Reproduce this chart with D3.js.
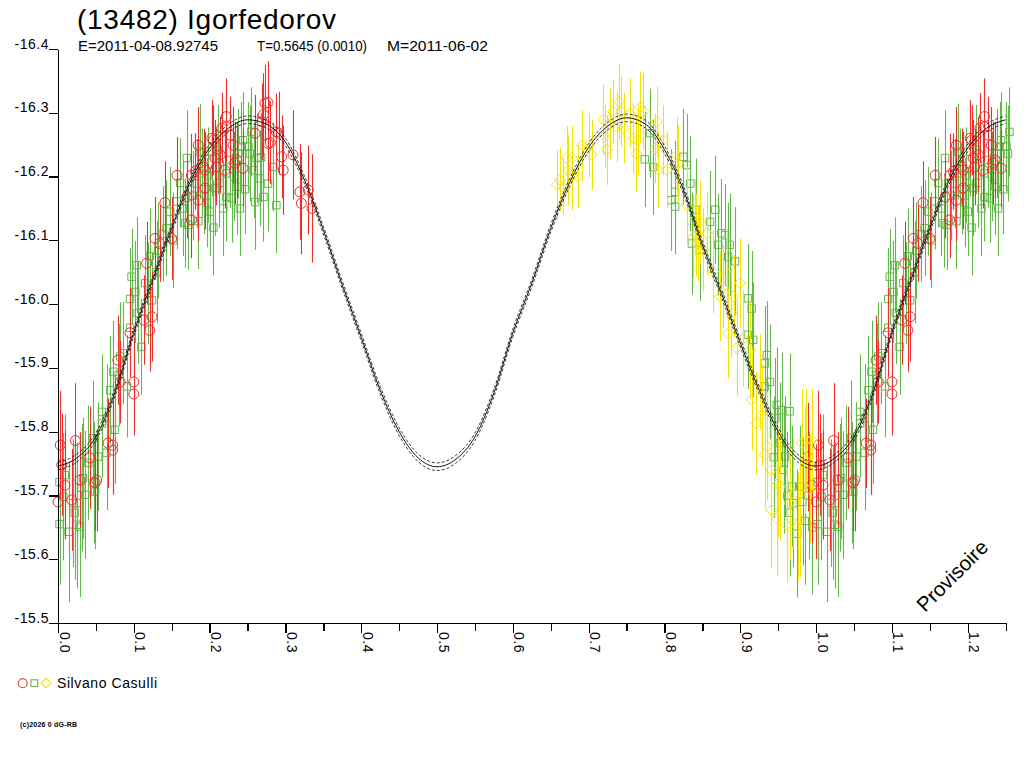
<!DOCTYPE html>
<html><head><meta charset="utf-8">
<script src="https://cdn.jsdelivr.net/npm/d3@7"></script>
<style>
body{margin:0;background:#fff}
svg{display:block}
text{font-family:"Liberation Sans",Arial,sans-serif;fill:#000}
</style>
</head><body>
<svg id="chart" width="1024" height="768"></svg>
<script>
// ---------- texts ----------
const titleText = "(13482) Igorfedorov";
const subtitleParts = ["E=2011-04-08.92745", "T=0.5645 (0.0010)", "M=2011-06-02"];
const observerName = "Silvano Casulli";
const copyrightText = "(c)2026 0 dG-RB";
const watermarkText = "Provisoire";

// ---------- axes ----------
const xMajorTicks = [0.0,0.1,0.2,0.3,0.4,0.5,0.6,0.7,0.8,0.9,1.0,1.1,1.2];
const xMinorTicks = [0.05,0.15,0.25,0.35,0.45,0.55,0.65,0.75,0.85,0.95,1.05,1.15,1.25];
const yTicks = [-16.4,-16.3,-16.2,-16.1,-16.0,-15.9,-15.8,-15.7,-15.6,-15.5];

// ---------- fitted curve (phase, magnitude) ----------
const curvePhase = [0.000,0.025,0.050,0.075,0.100,0.125,0.150,0.175,0.200,0.225,0.250,
  0.275,0.300,0.325,0.350,0.375,0.400,0.425,0.450,0.475,0.500,
  0.525,0.550,0.575,0.600,0.625,0.650,0.675,0.700,0.725,0.750,
  0.775,0.800,0.825,0.850,0.875,0.900,0.925,0.950,0.975,1.000];
const curveMag = [-15.746,-15.759,-15.792,-15.861,-15.956,-16.038,-16.119,-16.193,-16.245,-16.276,-16.289,
  -16.282,-16.254,-16.195,-16.116,-16.030,-15.948,-15.865,-15.800,-15.759,-15.745,
  -15.757,-15.792,-15.861,-15.955,-16.033,-16.119,-16.191,-16.246,-16.279,-16.292,
  -16.282,-16.242,-16.179,-16.093,-16.017,-15.939,-15.865,-15.800,-15.759,-15.746];
const curveEnvelope = 0.006;

// ---------- observations [phase, mag, error] ----------
const redPoints = [
[0.000,-15.690,0.090],[0.003,-15.779,0.085],[0.005,-15.748,0.080],[0.009,-15.716,0.085],
[0.018,-15.693,0.080],[0.023,-15.786,0.090],[0.029,-15.724,0.075],[0.042,-15.759,0.080],
[0.049,-15.720,0.075],[0.051,-15.724,0.080],[0.066,-15.782,0.070],[0.072,-15.779,0.075],
[0.072,-15.771,0.070],[0.079,-15.912,0.070],[0.082,-15.878,0.065],[0.095,-15.955,0.070],
[0.100,-15.878,0.070],[0.100,-15.859,0.065],[0.113,-15.975,0.070],[0.117,-16.064,0.065],
[0.121,-15.959,0.065],[0.124,-15.980,0.070],[0.128,-16.103,0.065],[0.134,-16.095,0.060],
[0.141,-16.159,0.065],[0.150,-16.103,0.065],[0.157,-16.202,0.060],[0.170,-16.168,0.065],
[0.176,-16.132,0.060],[0.176,-16.202,0.065],[0.181,-16.208,0.060],[0.185,-16.249,0.060],
[0.185,-16.163,0.065],[0.192,-16.215,0.060],[0.194,-16.182,0.065],[0.194,-16.210,0.060],
[0.203,-16.260,0.060],[0.205,-16.257,0.055],[0.207,-16.229,0.060],[0.209,-16.215,0.060],
[0.214,-16.234,0.060],[0.216,-16.276,0.055],[0.220,-16.210,0.060],[0.222,-16.294,0.060],
[0.222,-16.278,0.055],[0.227,-16.265,0.060],[0.231,-16.249,0.060],[0.233,-16.221,0.065],
[0.236,-16.226,0.060],[0.244,-16.213,0.060],[0.260,-16.268,0.060],[0.269,-16.286,0.060],
[0.271,-16.297,0.065],[0.273,-16.315,0.060],[0.277,-16.316,0.065],[0.277,-16.252,0.060],
[0.280,-16.253,0.065],[0.288,-16.270,0.060],[0.291,-16.268,0.065],[0.295,-16.231,0.065],
[0.297,-16.210,0.070],[0.310,-16.234,0.070],[0.319,-16.176,0.075],[0.321,-16.158,0.080],
[0.330,-16.179,0.070],[0.335,-16.150,0.085],[0.989,-15.760,0.085],[0.994,-15.716,0.090]
];
const greenPoints = [
[0.002,-15.655,0.095],[0.002,-15.721,0.090],[0.007,-15.698,0.100],[0.009,-15.732,0.095],
[0.014,-15.643,0.110],[0.020,-15.688,0.100],[0.022,-15.673,0.105],[0.025,-15.654,0.100],
[0.025,-15.688,0.095],[0.029,-15.651,0.110],[0.031,-15.712,0.100],[0.033,-15.727,0.095],
[0.036,-15.701,0.100],[0.040,-15.751,0.090],[0.046,-15.790,0.090],[0.047,-15.720,0.095],
[0.049,-15.706,0.090],[0.053,-15.761,0.085],[0.058,-15.831,0.090],[0.058,-15.813,0.085],
[0.064,-15.767,0.090],[0.064,-15.821,0.085],[0.069,-15.865,0.085],[0.073,-15.894,0.080],
[0.075,-15.803,0.085],[0.080,-15.889,0.080],[0.082,-15.918,0.085],[0.086,-15.923,0.080],
[0.091,-15.871,0.080],[0.095,-15.963,0.075],[0.095,-16.008,0.080],[0.097,-16.043,0.075],
[0.102,-16.019,0.080],[0.104,-16.061,0.075],[0.105,-15.986,0.080],[0.110,-15.933,0.075],
[0.115,-16.033,0.075],[0.119,-16.017,0.080],[0.121,-16.075,0.075],[0.124,-16.006,0.075],
[0.130,-16.050,0.080],[0.132,-16.084,0.075],[0.138,-16.110,0.075],[0.143,-16.119,0.075],
[0.148,-16.145,0.070],[0.152,-16.100,0.075],[0.157,-16.161,0.075],[0.161,-16.190,0.070],
[0.165,-16.150,0.075],[0.168,-16.127,0.070],[0.170,-16.229,0.075],[0.172,-16.124,0.070],
[0.178,-16.170,0.070],[0.183,-16.189,0.070],[0.185,-16.130,0.075],[0.187,-16.239,0.075],
[0.190,-16.205,0.070],[0.193,-16.180,0.070],[0.196,-16.159,0.070],[0.198,-16.202,0.075],
[0.200,-16.145,0.070],[0.203,-16.239,0.070],[0.205,-16.120,0.075],[0.207,-16.182,0.075],
[0.211,-16.242,0.070],[0.213,-16.190,0.070],[0.218,-16.150,0.075],[0.222,-16.205,0.075],
[0.222,-16.168,0.070],[0.227,-16.226,0.075],[0.229,-16.166,0.070],[0.232,-16.200,0.070],
[0.236,-16.184,0.075],[0.238,-16.236,0.070],[0.240,-16.150,0.075],[0.242,-16.247,0.070],
[0.244,-16.257,0.075],[0.247,-16.180,0.070],[0.251,-16.247,0.070],[0.253,-16.236,0.075],
[0.255,-16.270,0.070],[0.258,-16.210,0.075],[0.260,-16.160,0.075],[0.262,-16.229,0.070],
[0.266,-16.197,0.075],[0.268,-16.230,0.070],[0.271,-16.168,0.070],[0.277,-16.189,0.075],
[0.284,-16.215,0.070],[0.288,-16.155,0.075],
[0.774,-16.227,0.075],[0.781,-16.268,0.070],[0.785,-16.215,0.075],[0.809,-16.163,0.080],
[0.814,-16.153,0.075],[0.814,-16.176,0.080],[0.825,-16.231,0.075],[0.829,-16.218,0.080],
[0.834,-16.189,0.075],[0.836,-16.095,0.080],[0.842,-16.148,0.080],[0.842,-16.127,0.075],
[0.847,-16.085,0.080],[0.860,-16.129,0.080],[0.867,-16.148,0.085],[0.871,-16.093,0.080],
[0.875,-16.111,0.085],[0.880,-16.108,0.080],[0.884,-16.074,0.085],[0.886,-16.093,0.080],
[0.893,-16.067,0.085],[0.910,-16.009,0.085],[0.915,-15.993,0.090],[0.910,-15.952,0.085],
[0.917,-15.944,0.090],[0.932,-15.907,0.090],[0.935,-15.920,0.085],[0.939,-15.878,0.090],
[0.932,-15.871,0.090],[0.944,-15.760,0.095],[0.946,-15.821,0.095],[0.948,-15.842,0.090],
[0.952,-15.782,0.095],[0.955,-15.834,0.090],[0.957,-15.740,0.100],[0.959,-15.761,0.095],
[0.962,-15.700,0.100],[0.965,-15.832,0.090],[0.965,-15.673,0.100],[0.968,-15.714,0.095],
[0.970,-15.688,0.100],[0.975,-15.640,0.100],[0.979,-15.714,0.095],[0.982,-15.690,0.100],
[0.985,-15.660,0.100],[0.990,-15.700,0.100],[0.995,-15.650,0.105]
];
const yellowPoints = [
[0.658,-16.187,0.055],[0.662,-16.195,0.050],[0.666,-16.184,0.045],[0.671,-16.229,0.050],
[0.673,-16.210,0.055],[0.678,-16.229,0.050],[0.678,-16.202,0.055],[0.686,-16.200,0.050],
[0.691,-16.249,0.055],[0.700,-16.249,0.050],[0.704,-16.234,0.055],[0.719,-16.289,0.055],
[0.721,-16.263,0.050],[0.724,-16.242,0.055],[0.728,-16.283,0.055],[0.732,-16.302,0.050],
[0.737,-16.278,0.055],[0.740,-16.317,0.060],[0.743,-16.302,0.055],[0.746,-16.276,0.055],
[0.754,-16.299,0.055],[0.759,-16.260,0.055],[0.763,-16.236,0.060],[0.765,-16.257,0.055],
[0.768,-16.309,0.055],[0.772,-16.302,0.060],[0.787,-16.244,0.055],[0.790,-16.286,0.055],
[0.792,-16.210,0.060],[0.798,-16.257,0.055],[0.803,-16.210,0.060],[0.816,-16.234,0.060],
[0.818,-16.221,0.060],[0.829,-16.155,0.060],[0.838,-16.106,0.065],[0.840,-16.137,0.060],
[0.842,-16.108,0.065],[0.844,-16.095,0.060],[0.847,-16.129,0.065],[0.851,-16.085,0.065],
[0.856,-16.111,0.065],[0.864,-16.051,0.065],[0.873,-16.012,0.070],[0.877,-16.027,0.065],
[0.882,-16.048,0.070],[0.884,-15.954,0.070],[0.888,-15.986,0.070],[0.891,-16.012,0.065],
[0.895,-15.931,0.075],[0.900,-16.033,0.070],[0.904,-15.946,0.075],[0.913,-15.928,0.075],
[0.915,-15.850,0.080],[0.921,-15.813,0.080],[0.926,-15.878,0.075],[0.928,-15.826,0.080],
[0.932,-15.764,0.085],[0.935,-15.777,0.085],[0.941,-15.740,0.085],[0.941,-15.677,0.090],
[0.948,-15.664,0.090],[0.950,-15.719,0.085],[0.952,-15.714,0.085],[0.961,-15.654,0.090],
[0.965,-15.688,0.090],[0.970,-15.703,0.085],[0.976,-15.651,0.085],[0.979,-15.662,0.090],
[0.981,-15.782,0.085],[0.985,-15.756,0.085],[0.987,-15.787,0.080],[0.992,-15.709,0.085],
[0.994,-15.787,0.080]
];

// ---------- drawing ----------
const svg = d3.select("#chart");
const x = d3.scaleLinear().domain([0, 1.25]).range([58, 1005.7]);
const y = d3.scaleLinear().domain([-16.4, -15.5]).range([49, 623]);
const phaseMax = 1.25;

const COLORS = {red: "#ee2d2d", green: "#62b848", yellow: "#f6e400"};

// phases < 0.25 are repeated one cycle later
const wrap = pts => pts.concat(pts.filter(p => p[0] + 1 <= phaseMax + 0.005).map(p => [p[0] + 1, p[1], p[2]]));

function drawSeries(points, color, shape) {
  const g = svg.append("g");
  const data = wrap(points);
  g.selectAll("line").data(data).join("line")
    .attr("x1", d => Math.round(x(d[0])) + 0.5).attr("x2", d => Math.round(x(d[0])) + 0.5)
    .attr("y1", d => y(d[1] - d[2])).attr("y2", d => y(d[1] + d[2]))
    .attr("stroke", color).attr("stroke-width", 1.1);
  const sym = g.selectAll("path.m").data(data).join("path").attr("class", "m")
    .attr("fill", "none").attr("stroke", color).attr("stroke-width", 1)
    .attr("transform", d => `translate(${x(d[0])},${y(d[1])})`);
  if (shape === "circle") sym.attr("d", "M5,0A5,5 0 1,1 -5,0A5,5 0 1,1 5,0Z");
  if (shape === "square") sym.attr("d", "M-3.7,-3.7H3.7V3.7H-3.7Z");
  if (shape === "diamond") sym.attr("d", "M0,-5.5L5.5,0L0,5.5L-5.5,0Z");
}

drawSeries(greenPoints, COLORS.green, "square");
drawSeries(redPoints, COLORS.red, "circle");
drawSeries(yellowPoints, COLORS.yellow, "diamond");

// fitted curve with envelope
const curvePts = curvePhase.map((p, i) => [p, curveMag[i]]);
const curveAll = curvePts.concat(curvePts.filter(p => p[0] > 0 && p[0] + 1 <= phaseMax + 0.001).map(p => [p[0] + 1, p[1]]));
const line = d3.line().x(d => x(d[0])).curve(d3.curveMonotoneX);
const cg = svg.append("g").attr("fill", "none");
cg.append("path").datum(curveAll).attr("d", line.y(d => y(d[1] - curveEnvelope)))
  .attr("stroke", "#222").attr("stroke-width", 0.9).attr("stroke-dasharray", "3,2");
cg.append("path").datum(curveAll).attr("d", line.y(d => y(d[1] + curveEnvelope)))
  .attr("stroke", "#222").attr("stroke-width", 0.9).attr("stroke-dasharray", "3,2");
cg.append("path").datum(curveAll).attr("d", line.y(d => y(d[1])))
  .attr("stroke", "#111").attr("stroke-width", 1);

// axes
const axisFont = g => g.attr("font-family", '"Liberation Sans",Arial,sans-serif').attr("font-size", 14);

svg.append("g").attr("transform", "translate(0,623)")
  .call(d3.axisBottom(x).tickValues(xMinorTicks).tickSize(8).tickSizeOuter(0).tickFormat(""));
const xAxis = svg.append("g").attr("transform", "translate(0,623)")
  .call(d3.axisBottom(x).tickValues(xMajorTicks).tickSize(10).tickSizeOuter(0).tickFormat(d => d.toFixed(1)))
  .call(axisFont);
xAxis.selectAll("text")
  .attr("transform", "rotate(90)").attr("x", 9).attr("y", -1).attr("dy", 0)
  .style("text-anchor", "start").style("letter-spacing", "0.5px");

const yAxis = svg.append("g").attr("transform", "translate(58,0)")
  .call(d3.axisLeft(y).tickValues(yTicks).tickSize(9).tickSizeOuter(0).tickFormat(d => d.toFixed(1)))
  .call(axisFont);
yAxis.selectAll("text").attr("x", -9).attr("y", -1).attr("dy", 0)
  .style("text-anchor", "end").style("letter-spacing", "0.5px");

svg.selectAll(".domain, .tick line").attr("stroke", "#000").attr("stroke-width", 1.3)
  .attr("shape-rendering", "crispEdges");

// titles
svg.append("text").attr("x", 77).attr("y", 29).attr("font-size", 28)
  .attr("textLength", 259).attr("lengthAdjust", "spacing").text(titleText);
const subX = [78, 257, 387];
const subW = [140, 110, 101];
subtitleParts.forEach((t, i) => {
  svg.append("text").attr("x", subX[i]).attr("y", 51).attr("font-size", 14)
    .attr("textLength", subW[i]).attr("lengthAdjust", "spacingAndGlyphs").text(t);
});

// legend
const lg = svg.append("g");
lg.append("circle").attr("cx", 22.7).attr("cy", 683.3).attr("r", 4.5)
  .attr("fill", "none").attr("stroke", COLORS.red).attr("stroke-width", 1.1);
lg.append("rect").attr("x", 31).attr("y", 679.8).attr("width", 6.7).attr("height", 6.7)
  .attr("fill", "none").attr("stroke", COLORS.green).attr("stroke-width", 1.1);
lg.append("path").attr("d", "M46,678L51,683L46,688L41,683Z")
  .attr("fill", "none").attr("stroke", COLORS.yellow).attr("stroke-width", 1.1);
lg.append("text").attr("x", 57).attr("y", 687.5).attr("font-size", 14)
  .attr("textLength", 100).attr("lengthAdjust", "spacing").text(observerName);

// copyright
svg.append("text").attr("x", 20).attr("y", 727).attr("font-size", 7).attr("font-weight", "bold")
  .attr("textLength", 57).attr("lengthAdjust", "spacing").text(copyrightText);

// watermark
svg.append("text").attr("transform", "translate(925,613) rotate(-45)")
  .attr("font-size", 20.5).text(watermarkText);
</script>
</body></html>
